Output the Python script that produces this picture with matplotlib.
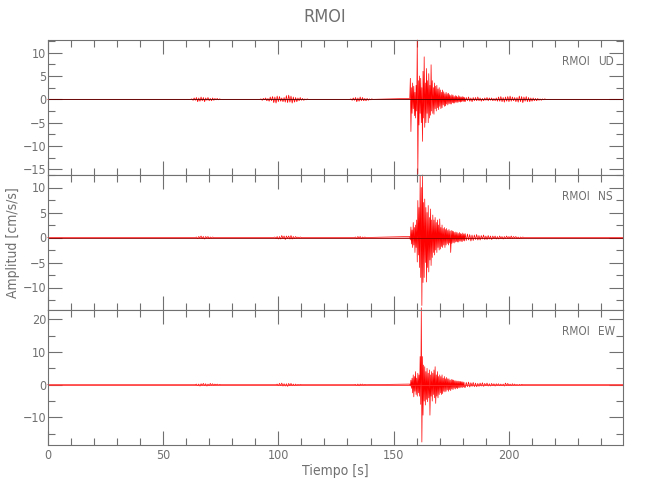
import numpy as np
import matplotlib.pyplot as plt
from matplotlib.ticker import MultipleLocator

plt.rcParams['font.family'] = ['DejaVu Sans']
plt.rcParams['font.stretch'] = 'condensed'

station = "RMOI"
components = ["UD", "NS", "EW"]

# small bursts before the main event: (start time [s], amplitudes at 0.5 s steps)
ud_bursts = [
    (62, [0, 0.1, -0.2, 0.3, -0.2, 0.4, -0.5, 0.3, -0.4, 0.5, -0.3, 0.4, -0.5, 0.3,
          -0.2, 0.4, -0.3, 0.2, -0.3, 0.3, -0.2, 0.2, -0.1, 0.2, -0.1, 0.1, 0]),
    (92, [0, 0.1, -0.2, 0.2, -0.1, 0.3, -0.3, 0.2, -0.4, 0.5, -0.3, 0.6, -0.7, 0.5,
          -0.8, 0.7, -0.5, 0.6, -0.4, 0.3, -0.5, 0.4, -0.6, 0.8, -0.7, 0.9, -0.6, 0.7,
          -0.8, 0.5, -0.6, 0.4, -0.5, 0.3, -0.3, 0.4, -0.2, 0.2, -0.2, 0.1, -0.1, 0.1, 0]),
    (131, [0, 0.1, -0.2, 0.3, -0.2, 0.4, -0.5, 0.3, -0.4, 0.5, -0.3, 0.4, -0.3, 0.2,
           -0.3, 0.2, -0.2, 0.1, -0.1, 0.1, 0]),
]
ns_bursts = [
    (64, [0, 0.1, -0.2, 0.2, -0.1, 0.3, -0.2, 0.2, -0.3, 0.2, -0.1, 0.2, -0.2, 0.1,
          -0.1, 0.1, 0]),
    (98, [0, 0.1, -0.2, 0.2, -0.3, 0.2, -0.3, 0.4, -0.2, 0.3, -0.4, 0.3, -0.2, 0.3,
          -0.3, 0.4, -0.3, 0.2, -0.2, 0.2, -0.1, 0.1, -0.1, 0.1, 0]),
    (133, [0, 0.1, -0.2, 0.2, -0.1, 0.2, -0.2, 0.1, -0.1, 0.1, 0]),
]
ew_bursts = [
    (64, [0, 0.2, -0.3, 0.2, -0.4, 0.3, -0.2, 0.4, -0.3, 0.3, -0.4, 0.2, -0.3, 0.4,
          -0.2, 0.3, -0.2, 0.2, -0.1, 0.2, -0.1, 0.1, 0]),
    (99, [0, 0.2, -0.3, 0.4, -0.3, 0.5, -0.4, 0.3, -0.4, 0.3, -0.5, 0.4, -0.3, 0.4,
          -0.3, 0.2, -0.3, 0.2, -0.2, 0.1, -0.1, 0.1, 0]),
    (133, [0, 0.1, -0.2, 0.2, -0.3, 0.2, -0.1, 0.2, -0.1, 0.1, 0]),
]
burst_step = 0.5

# main event, peaks every 0.25 s from 157 s to 180.75 s
event_start = 157.0
event_step = 0.25
ud_event = [0.2, 4.5, -6.9, 2.5, -3.0, 3.5, -2.0, 2.8, -3.5, 1.5, -4.0, 3.0,
            -2.5, 12.7, -16.0, 4.0, -5.5, 5.0, -3.0, 4.5, -5.0, 2.5, -9.0, 6.0,
            -4.0, 9.1, -6.0, 3.5, -5.0, 6.6, -3.0, 4.0, -5.0, 5.5, -4.0, 3.0,
            -3.4, 7.4, -2.5, 4.0, -3.0, 2.5, -3.2, 3.5, -2.0, 2.8, -2.5, 3.0,
            -1.8, 2.2, -2.2, 2.5, -1.5, 2.0, -2.0, 1.5, -1.8, 2.0, -1.2, 1.6,
            -1.5, 1.2, -1.4, 1.5, -1.0, 1.2, -1.2, 1.3, -0.9, 1.0, -1.0, 0.8,
            -1.0, 1.0, -0.7, 0.9, -0.8, 0.6, -0.8, 0.8, -0.6, 0.7, -0.7, 0.5,
            -0.6, 0.8, -0.5, 0.6, -0.6, 0.5, -0.5, 0.6, -0.4, 0.5, -0.5, 0.4]
ns_event = [0.2, -0.5, 2.1, -1.3, 1.5, -2.0, 3.0, -1.5, 2.0, -3.0, 2.5, -2.0,
            3.5, -4.9, 7.4, -3.5, 6.0, -6.0, 12.3, -8.0, 10.0, -13.6, 12.5, -9.0,
            7.0, -8.0, 7.7, -5.0, 6.0, -8.9, 5.0, -6.0, 6.4, -6.9, 4.0, -4.5,
            5.7, -5.6, 3.5, -4.0, 4.5, -3.0, 3.5, -3.5, 4.0, -2.5, 3.0, -3.0,
            3.5, -2.0, 2.5, -2.5, 3.7, -2.3, 2.0, -1.8, 2.5, -2.0, 1.8, -1.5,
            2.0, -2.0, 1.6, -1.5, 1.8, -1.2, 1.4, -1.5, 1.6, -1.1, 1.3, -3.0,
            1.4, -1.2, 1.3, -1.0, 1.2, -1.1, 1.0, -0.9, 1.1, -0.8, 1.0, -0.9,
            0.8, -0.9, 1.0, -0.7, 0.8, -0.8, 0.7, -0.8, 0.9, -0.6, 0.7, -0.7]
ew_event = [0.2, -0.4, 1.4, -1.1, 2.0, -2.5, 3.0, -3.7, 2.5, -2.0, 4.0, -3.0,
            2.0, -3.5, 3.5, -2.5, 3.0, -3.5, 8.6, -6.0, 23.5, -17.5, 8.6, -9.3,
            6.0, -5.0, 5.5, -6.2, 4.0, -4.5, 5.0, -5.2, 3.5, -4.0, 4.5, -9.3,
            3.0, -3.5, 4.0, -5.0, 3.5, -3.0, 4.5, -4.0, 5.5, -5.7, 3.0, -3.5,
            4.0, -4.0, 2.5, -3.0, 3.0, -2.5, 2.5, -3.0, 3.0, -2.7, 2.0, -2.0,
            2.5, -2.2, 1.8, -2.0, 2.2, -1.6, 1.8, -2.0, 1.8, -1.5, 1.4, -1.8,
            1.6, -1.3, 1.5, -1.5, 1.4, -1.1, 1.2, -1.3, 1.2, -1.0, 1.1, -1.2,
            1.1, -0.9, 1.0, -1.0, 1.0, -0.8, 0.9, -0.9, 0.9, -0.7, 0.8, -0.8]

# coda, peaks every 0.5 s from 181 s
coda_start = 181.0
coda_step = 0.5
ud_coda = [-0.5, 0.4, -0.3, 0.5, -0.4, 0.3, -0.5, 0.4, -0.3, 0.4, -0.3, 0.5, -0.3, 0.3,
           -0.4, 0.2, -0.3, 0.3, -0.2, 0.4, -0.3, 0.3, -0.2, 0.3, -0.3, 0.2, -0.3, 0.3,
           -0.4, 0.5, -0.4, 0.6, -0.5, 0.4, -0.6, 0.5, -0.4, 0.6, -0.5, 0.7, -0.4, 0.5,
           -0.3, 0.4, -0.5, 0.4, -0.6, 0.7, -0.5, 0.6, -0.7, 0.5, -0.4, 0.6, -0.5, 0.4,
           -0.5, 0.3, -0.4, 0.3, -0.3, 0.2, -0.3, 0.2, -0.2, 0.1, -0.2, 0.1, -0.1, 0.1, 0]
ns_coda = [0.8, -0.6, 0.7, -0.5, 0.6, -0.7, 0.5, -0.6, 0.5, -0.4, 0.6, -0.5, 0.4, -0.5,
           0.4, -0.3, 0.5, -0.4, 0.3, -0.4, 0.4, -0.3, 0.3, -0.4, 0.3, -0.2, 0.3, -0.3,
           0.2, -0.3, 0.3, -0.2, 0.2, -0.3, 0.2, -0.2, 0.3, -0.2, 0.2, -0.2, 0.3, -0.2,
           0.2, -0.1, 0.2, -0.2, 0.1, -0.2, 0.1, -0.1, 0.1, 0]
ew_coda = [-0.8, 0.7, -0.6, 0.8, -0.7, 0.6, -0.5, 0.7, -0.6, 0.5, -0.6, 0.4, -0.5, 0.5,
           -0.4, 0.6, -0.5, 0.4, -0.3, 0.5, -0.4, 0.3, -0.4, 0.4, -0.3, 0.3, -0.4, 0.3,
           -0.2, 0.3, -0.3, 0.2, -0.3, 0.2, -0.4, 0.5, -0.3, 0.4, -0.3, 0.2, -0.3, 0.3,
           -0.2, 0.2, -0.2, 0.1, -0.2, 0.1, -0.1, 0.1, 0]

y_limits = [(-16.2, 12.7), (-14.5, 12.5), (-18.4, 22.8)]
y_major = [5, 5, 10]
y_minor = [2.5, 2.5, 5]
t_end = 249.6


def trace(bursts, event, coda):
    t = [0.0]
    a = [0.0]
    for t0, amps in bursts:
        t += list(t0 + burst_step * np.arange(len(amps)))
        a += amps
    t += list(event_start + event_step * np.arange(len(event)))
    a += event
    t += list(coda_start + coda_step * np.arange(len(coda)))
    a += coda
    t.append(t_end)
    a.append(0.0)
    return np.array(t), np.array(a)


traces = [trace(ud_bursts, ud_event, ud_coda),
          trace(ns_bursts, ns_event, ns_coda),
          trace(ew_bursts, ew_event, ew_coda)]

grey = '#707070'
zero_colors = ['#500000', '#900000', '#ff3030']
fig = plt.figure(figsize=(6.5, 5), dpi=100)
left, width, height = 47.7 / 650, 575.6 / 650, 135 / 500
bottoms = [1 - 175 / 500, 1 - 310 / 500, 1 - 445 / 500]

for i in range(3):
    ax = fig.add_axes([left, bottoms[i], width, height])
    t, a = traces[i]
    ax.fill_between(t, a, 0, color='red', alpha=0.4, lw=0)
    ax.plot(t, a, color='red', lw=0.5, clip_on=False)
    ax.axhline(0, color=zero_colors[i], lw=0.6)
    ax.set_xlim(0, t_end)
    ax.set_ylim(*y_limits[i])
    ax.xaxis.set_major_locator(MultipleLocator(50))
    ax.xaxis.set_minor_locator(MultipleLocator(10))
    ax.yaxis.set_major_locator(MultipleLocator(y_major[i]))
    ax.yaxis.set_minor_locator(MultipleLocator(y_minor[i]))
    ax.tick_params(which='both', direction='in', top=True, right=True,
                   color=grey, labelcolor=grey, labelsize=9, width=0.8)
    ax.tick_params(which='major', length=10, pad=1)
    ax.tick_params(which='minor', length=5)
    for s in ax.spines.values():
        s.set_color(grey)
        s.set_linewidth(0.8)
    if i < 2:
        ax.tick_params(labelbottom=False)
    else:
        ax.tick_params(axis='x', pad=3)
        ax.set_xlabel("Tiempo [s]", color=grey, fontsize=10, labelpad=1)
    if i == 1:
        ax.set_ylabel("Amplitud [cm/s/s]", color=grey, fontsize=10, labelpad=2)
    ax.text(0.893, 0.844, station, transform=ax.transAxes, color=grey,
            fontsize=8.5, va='center', ha='left')
    ax.text(0.956, 0.844, components[i], transform=ax.transAxes, color=grey,
            fontsize=8.5, va='center', ha='left')

fig.text(0.5, 1 - 17 / 500, station, ha='center', va='center', color=grey, fontsize=13)

fig.savefig("out.png", dpi=100)
